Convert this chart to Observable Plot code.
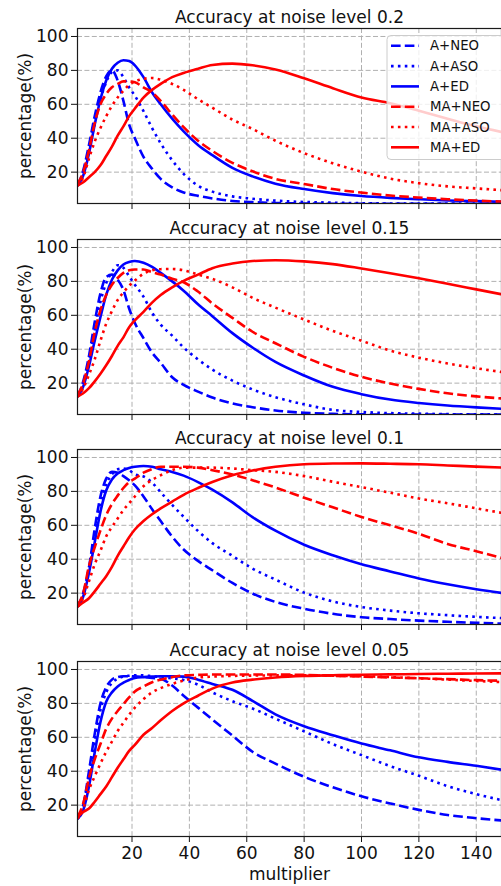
<!DOCTYPE html>
<html>
<head>
<meta charset="utf-8">
<script src="https://cdn.jsdelivr.net/npm/d3@7"></script>
<script src="https://cdn.jsdelivr.net/npm/@observablehq/plot@0.6"></script>
<style>
  html, body { margin: 0; padding: 0; background: #fff; overflow: hidden; }
  #chart { position: relative; width: 501px; height: 886px; }
  #chart svg { position: absolute; left: 0; }
</style>
</head>
<body>
<div id="chart"></div>
<script>
// ---------- data ----------
const multiplier = [1,3,5,7,9,11,13,15,17,19,21,24,27,30,34,38,43,48,55,62,70,80,90,100,110,120,130,140,150];
const seriesNames = ["A+NEO", "A+ASO", "A+ED", "MA+NEO", "MA+ASO", "MA+ED"];
const seriesColors = ["#0000ff", "#0000ff", "#0000ff", "#ff0000", "#ff0000", "#ff0000"];
const seriesStyles = ["dashed", "dotted", "solid", "dashed", "dotted", "solid"];
const noiseLevels = ["0.2", "0.15", "0.1", "0.05"];
const xTicks = [20, 40, 60, 80, 100, 120, 140];
const yTicks = [20, 40, 60, 80, 100];

// noise 0.2
const n020_A_NEO  = [12,21,36,53,67,76.5,80,74,62,48,40,29,22,16,11,8,6,4.5,3,2.3,1.8,1.5,1.3,1.3,1.3,1.3,1.3,1.3,1.3];
const n020_A_ASO  = [12,19,33,49,63,73,79,80,76,70,65,56,46,37,27,19,12,8.5,5.7,4.3,3.2,2.4,2,1.7,1.5,1.5,1.4,1.4,1.4];
const n020_A_ED   = [12,18,31,48,63,74,81,84.5,86,85.5,83,76,67,60,51.5,44,36,30,22.5,17.5,13.2,10,7.6,5.9,4.8,4,3.3,2.9,2.5];
const n020_MA_NEO = [13,20,33,49,60,66,70,72,73.5,73.5,73,70,67,62,54,46.5,38.5,32.5,25.5,20.5,16,13,10,7.9,6.2,5,4,3.2,2.6];
const n020_MA_ASO = [12,17,28,38,46,53,59,64,68,71.5,73.5,75,75.5,74.5,72,68.5,63,58,51,45.5,38.5,31.2,25.2,20.3,16.2,13.5,11.6,10.4,9.2];
const n020_MA_ED  = [12,14,17,20,24,29.5,35,41.5,47,53,57.5,64,68.5,72,76,78.5,81,83.2,84,83,80.5,75.3,69.5,64,60.6,56.2,51.5,47,43.3];

// noise 0.15
const n015_A_NEO  = [12,21,36,56,73,82.5,84,81,75,64,55.5,46.5,38,32,23.5,19,15,11.5,8,5.8,3.9,2.5,1.9,1.6,1.4,1.4,1.4,1.4,1.4];
const n015_A_ASO  = [12,19,33,51,68,79,85.5,89.5,88,83,78,71,61.5,54.5,48,41,34,28,21.5,16.3,11.7,7.5,4.2,3,2.3,2,1.7,1.6,1.5];
const n015_A_ED   = [12,18,30,45,59,72,81,86.5,90,91.5,92,91,88.5,85,80,74.5,66.5,59.5,49.5,41,32.5,24.5,17.8,13.5,10.3,8.3,6.8,5.7,4.8];
const n015_MA_NEO = [13,20,33,50,63,72,78,82,85,86.5,87,87,85.5,84,81.5,79.5,74,67,58.5,50.3,43.5,35.5,29,23.7,19.8,16.6,14,12.2,10.8];
const n015_MA_ASO = [12,17,25,34,45,55,62.5,69,73.5,77.5,80.5,84.5,86.5,87.2,87.3,86.5,84,81.5,76.5,70.3,64.5,57.5,50.8,45,39.2,35,31.6,28.8,26.3];
const n015_MA_ED  = [12,14,17,21,25.5,30.5,36,42,47,53,57,62,67.5,72,76.5,80.3,84,87.8,90.5,92,92.5,91.8,90.2,87.6,84.8,81.8,78.6,75.3,72];

// noise 0.1
const n010_A_NEO  = [12,20,35,58,77,87.5,91.5,91,89,86.5,83.5,77,69.5,62.5,53.3,45.7,39,33.5,26,19.8,14.8,10.8,7.8,5.8,4.7,3.8,3.1,2.5,2];
const n010_A_ASO  = [12,19,35,54,72,84,90,93,93.5,92.5,90,88.8,85.2,79.5,72,65,56.6,49.5,42,34.5,28,20.3,15.1,11.8,9.7,8.1,7,6,5.2];
const n010_A_ED   = [12,18,32,50,68,80.5,87,90.5,92.5,93.8,94.5,95,94.5,93,91.5,89.3,85.5,81,73.5,64.8,56.8,48.5,42.3,37,32.8,28.6,25.2,22.3,19.8];
const n010_MA_NEO = [13,20,36,47,57,66,72.5,77.5,82,85.5,87.5,91,93.2,94.5,94.5,94.5,94,92.5,90,86.6,82.3,76.3,70.6,64.9,60,55,49,44.7,40.3];
const n010_MA_ASO = [12,17,27,37,45,53.5,59,64,69,73,77,83,86.8,89.5,92.5,94,94,94,93.5,92.5,91.5,89,85.7,82.5,79.2,75.8,73,70,67];
const n010_MA_ED  = [12,14.5,17,21,25.5,30,35.5,42,47.5,53,57.5,62.5,66.5,70,74,78,82,85.5,89.5,92.3,94.5,96,96.4,96.5,96.3,96,95.3,94.6,94];

// noise 0.05
const n005_A_NEO  = [12,20,40,62,80,89.5,94,95.5,96,96,96,95.5,95,94.5,90.5,84.5,77.5,70.5,61,51.5,44.5,36.7,30.5,25.2,21,17.2,14.2,12.3,10.8];
const n005_A_ASO  = [12,18,37,58,76,86.5,92,94.5,95.8,96.3,96.5,96.5,96,95.5,94.8,93.8,91,86.5,81.3,77,71,63.5,56,49.5,43,37.3,31.2,26.5,22.5];
const n005_A_ED   = [12,17,31,51,69,81,86.5,90,92.2,93.8,95,95.5,95.8,96,96,95.8,94,91.5,88,81.5,73.5,66.5,61.2,56.3,52.3,48.2,45.5,43.2,40.6];
const n005_MA_NEO = [13,21,36,47,56,65,71,75.5,79.5,83.5,87,90,92.5,94,95.5,96.5,96.8,97,97,97,97,96.8,96.3,95.8,95.3,94.8,94.3,93.7,93.3];
const n005_MA_ASO = [12,18,29,37,44.5,51.5,57.5,63.7,68.5,73.3,77.5,82.5,86.5,89,91.5,93.5,95.2,95.8,96.2,96.4,96.5,96.5,96.3,96,95.5,94.8,94,93.2,92.5];
const n005_MA_ED  = [13,16,18,22,26.5,31,36.5,42,47,52,55.5,61.5,65.5,70,75.5,80,84.5,88.7,92.3,94,95.3,96.2,96.6,96.9,97.1,97.3,97.5,97.6,97.7];

const panelSeries = [
  [n020_A_NEO, n020_A_ASO, n020_A_ED, n020_MA_NEO, n020_MA_ASO, n020_MA_ED],
  [n015_A_NEO, n015_A_ASO, n015_A_ED, n015_MA_NEO, n015_MA_ASO, n015_MA_ED],
  [n010_A_NEO, n010_A_ASO, n010_A_ED, n010_MA_NEO, n010_MA_ASO, n010_MA_ED],
  [n005_A_NEO, n005_A_ASO, n005_A_ED, n005_MA_NEO, n005_MA_ASO, n005_MA_ED]
];

// ---------- drawing ----------
const LW = 2.6;
const dashFor = {dashed: `${3.7 * LW},${1.6 * LW}`, dotted: `${LW},${1.65 * LW}`, solid: null};
const FONT = "DejaVu Sans, Liberation Sans, sans-serif";
const panelTops = [0, 211, 421, 633];
const frameH = 175;

function makePanel(p) {
  const last = p === noiseLevels.length - 1;
  const height = last ? 886 - panelTops[p] : 211;
  const rows = [];
  seriesNames.forEach((s, k) => {
    panelSeries[p][k].forEach((v, i) => rows.push({x: multiplier[i], y: v, series: s}));
  });
  const marks = [
    Plot.ruleX(xTicks, {stroke: "#b0b0b0", strokeWidth: 1, strokeDasharray: "5,2.4"}),
    Plot.ruleY(yTicks, {stroke: "#b0b0b0", strokeWidth: 1, strokeDasharray: "5,2.4"}),
    ...seriesNames.map((s, k) => Plot.line(rows.filter(d => d.series === s), {
      x: "x", y: "y", stroke: seriesColors[k], strokeWidth: LW,
      strokeDasharray: dashFor[seriesStyles[k]], strokeLinecap: "butt",
      curve: "monotone-x", clip: true
    })),
    Plot.frame({stroke: "#1a1a1a", strokeWidth: 1.2}),
    Plot.text([`Accuracy at noise level ${noiseLevels[p]}`], {
      text: d => d, frameAnchor: "top", textAnchor: "middle", lineAnchor: "bottom", dy: -6, fontSize: 17, fill: "#111"
    }),
    Plot.text(["percentage(%)"], {
      text: d => d, frameAnchor: "left", textAnchor: "middle", lineAnchor: "middle",
      rotate: -90, dx: -52, fontSize: 17, fill: "#111"
    })
  ];
  if (last) {
    marks.push(Plot.text(["multiplier"], {
      text: d => d, frameAnchor: "bottom", textAnchor: "middle", lineAnchor: "bottom", dy: 43, fontSize: 17, fill: "#111"
    }));
  }
  const svg = Plot.plot({
    width: 501,
    height,
    marginTop: 28,
    marginLeft: 77,
    marginRight: 0,
    marginBottom: height - 28 - frameH,
    x: {domain: [1, 148.8], ticks: xTicks, tickSize: 6, tickPadding: 4,
        tickFormat: last ? (d => String(d)) : (() => ""), label: null},
    y: {domain: [1.5, 104.7], ticks: yTicks, tickSize: 6, tickPadding: 3, label: null},
    style: {fontFamily: FONT, fontSize: "17px", background: "transparent", color: "#111", overflow: "visible"},
    marks
  });
  svg.style.top = panelTops[p] + "px";
  return svg;
}

const chart = document.getElementById("chart");
const svgs = noiseLevels.map((_, p) => {
  const s = makePanel(p);
  chart.appendChild(s);
  return s;
});

// legend in the first panel
const lg = d3.select(svgs[0]).append("g")
  .attr("font-family", FONT).attr("font-size", 13.3).attr("text-anchor", "start");
lg.append("rect")
  .attr("x", 387).attr("y", 35.5).attr("width", 140).attr("height", 124).attr("rx", 4)
  .attr("fill", "white").attr("fill-opacity", 0.8).attr("stroke", "#cccccc").attr("stroke-width", 1);
seriesNames.forEach((s, k) => {
  const yy = 45.8 + k * 20.3;
  lg.append("line")
    .attr("x1", 391).attr("x2", 419).attr("y1", yy).attr("y2", yy)
    .attr("stroke", seriesColors[k]).attr("stroke-width", LW)
    .attr("stroke-dasharray", dashFor[seriesStyles[k]]);
  lg.append("text").attr("x", 430).attr("y", yy).attr("dy", "0.35em")
    .attr("text-anchor", "start").attr("fill", "#111").text(s);
});
</script>
</body>
</html>
